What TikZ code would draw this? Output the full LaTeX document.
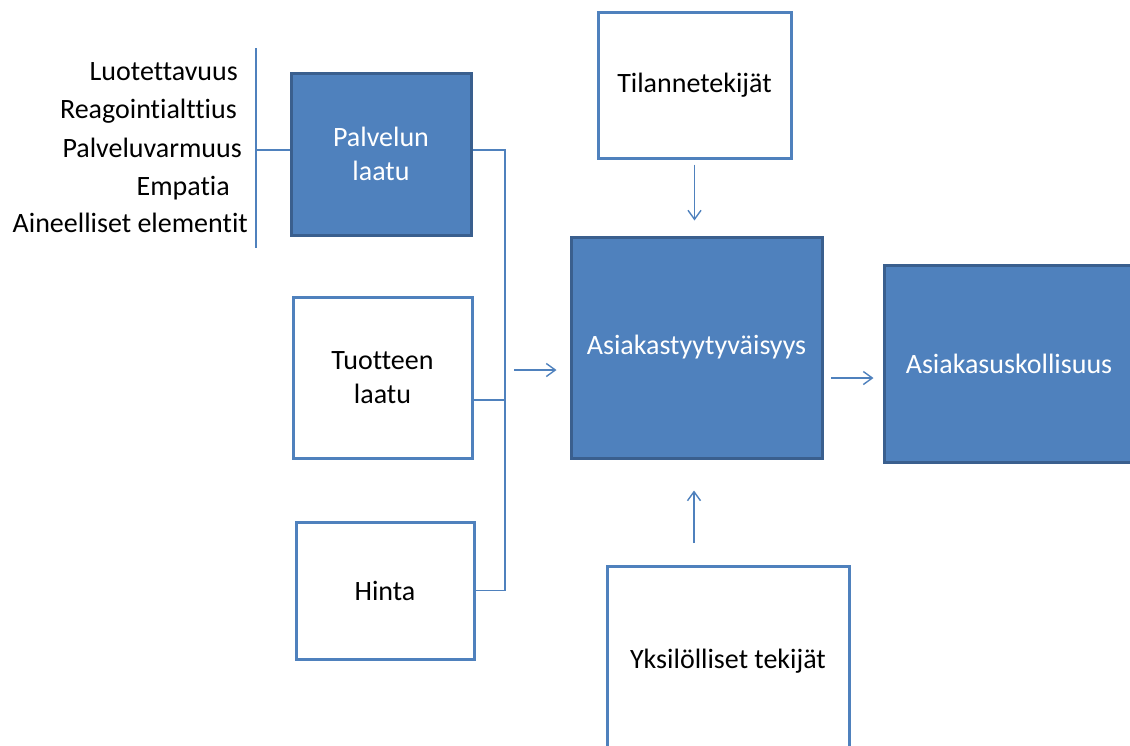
\documentclass[tikz,border=0pt]{standalone}
\usepackage{fontspec}
\setmainfont[Ligatures=NoCommon]{Carlito}
\usetikzlibrary{arrows.meta}
\definecolor{blu}{HTML}{4F81BD}
\definecolor{dblu}{HTML}{3A5F8E}
\tikzset{
  fbox/.style={draw=dblu, fill=blu, line width=3pt, text=white, align=center, font=\fontsize{28}{34}\selectfont, inner sep=0pt},
  wbox/.style={draw=blu, fill=white, line width=3pt, text=black, align=center, font=\fontsize{28}{34}\selectfont, inner sep=0pt},
  conn/.style={draw=blu, line width=1.4pt},
  arr/.style={conn, -{Straight Barb[length=9pt,width=13pt,line width=1.4pt]}},
  lbl/.style={font=\fontsize{28}{34}\selectfont, anchor=base east, inner sep=0pt}
}
\begin{document}
\begin{tikzpicture}[x=1pt,y=-1pt]
\useasboundingbox (0,0) rectangle (1130,745);
\begin{scope}
\clip (0,0) rectangle (1130,745);
% boxes
\node[fbox, minimum width=180, minimum height=162] (palvelu) at (381,154) {Palvelun\\laatu};
\node[wbox, minimum width=179, minimum height=161] (tuote) at (382.5,377.5) {Tuotteen\\laatu};
\node[wbox, minimum width=178, minimum height=137] (hinta) at (385,590.5) {Hinta};
\node[wbox, minimum width=193, minimum height=146] (tilanne) at (694.5,85) {Tilannetekijät};
\node[fbox, minimum width=251, minimum height=221] (asia) at (696.5,347.5) {Asiakastyytyväisyys};
\node[fbox, minimum width=250, minimum height=197] (usk) at (1009,363.5) {Asiakasuskollisuus};
\node[wbox, minimum width=242, minimum height=190] (yksi) at (728,661) {Yksilölliset tekijät};
% left list
\node[lbl] (l1) at (238,80) {Luotettavuus};
\node[lbl] (l2) at (237,118) {Reagointialttius};
\node[lbl] (l3) at (242,157) {Palveluvarmuus};
\node[lbl] (l4) at (230,195) {Empatia};
\node[lbl] (l5) at (248,232) {Aineelliset elementit};
\coordinate (vt) at (256,48);
\coordinate (vb) at (256,248);
\draw[conn] (vt) -- (vb);
\coordinate (p0) at ([yshift=4pt]palvelu.west);
\draw[conn] (vt |- p0) -- (p0);
% bracket
\coordinate (bx) at (505,0);
\coordinate (p1) at ([yshift=4pt]palvelu.east);
\coordinate (t1) at ([yshift=-22.5pt]tuote.east);
\draw[conn] (p1) -| (bx |- hinta.east) -- (hinta.east);
\draw[conn] (t1) -- (bx |- t1);
\coordinate (a1) at (514,370);
\draw[arr, shorten >=13pt] (a1) -- (asia.west |- a1);
% arrows
\draw[arr, shorten <=5pt, shorten >=15pt] (tilanne.south) -- (tilanne.south |- asia.north);
\coordinate (a2) at (831,378);
\draw[arr, shorten >=9pt] (a2) -- (usk.west |- a2);
\coordinate (a3) at (694,543);
\draw[arr, shorten >=31pt] (a3) -- (a3 |- asia.south);
\end{scope}
\end{tikzpicture}
\end{document}
